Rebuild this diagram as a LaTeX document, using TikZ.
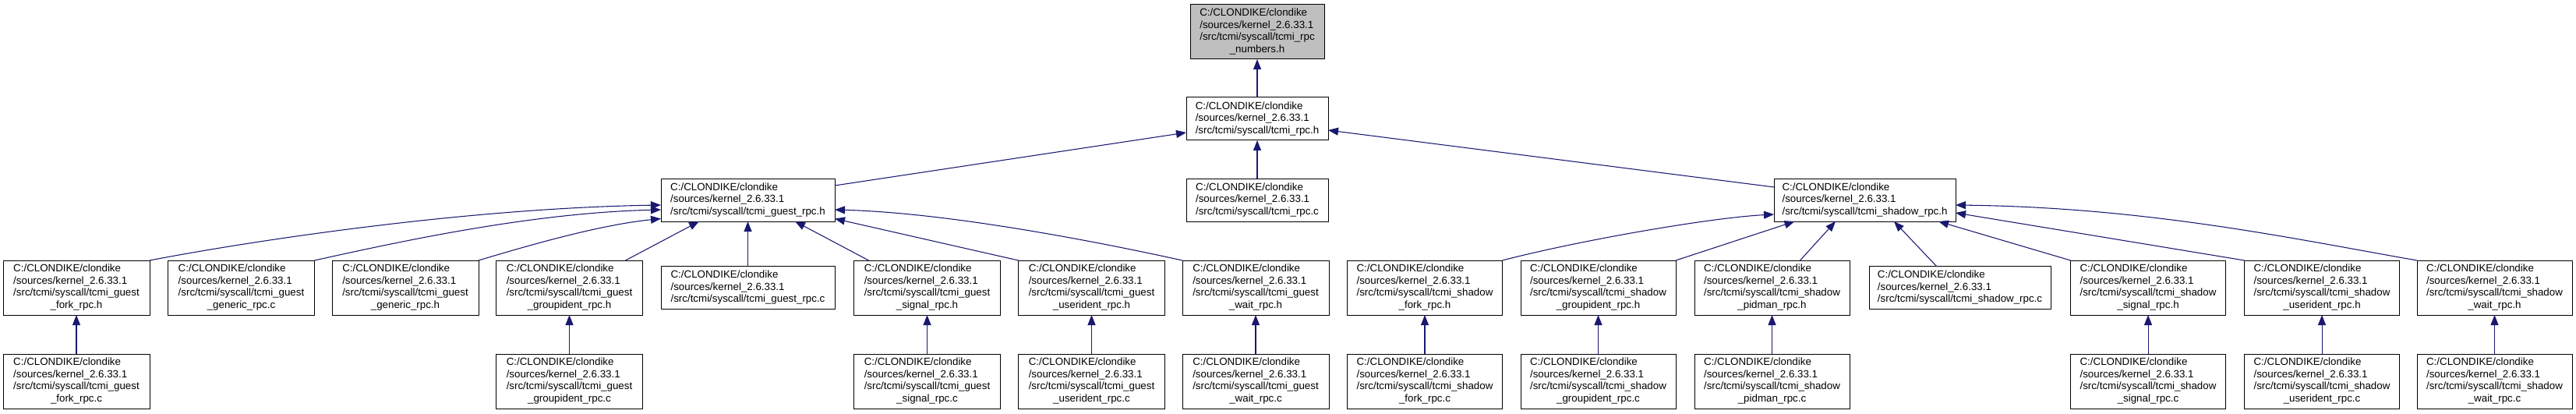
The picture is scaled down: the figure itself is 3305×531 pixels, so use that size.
\documentclass[tikz,border=0pt]{standalone}
\usepackage{fontspec}
\setmainfont{Liberation Sans}
\usetikzlibrary{arrows.meta,calc}
\definecolor{edgeblue}{RGB}{25,25,112}
\definecolor{topgrey}{RGB}{191,191,191}
\newcommand\fourl[4]{\begin{tabular}{@{}l@{}}#1\\#2\\#3\\\multicolumn{1}{@{}c@{}}{#4}\end{tabular}}
\newcommand\threel[3]{\begin{tabular}{@{}l@{}}#1\\#2\\#3\end{tabular}}
\newcommand\pa{C:/CLONDIKE/clondike}
\newcommand\pb{/sources/kernel\_2.6.33.1}
\newcommand\pg{/src/tcmi/syscall/tcmi\_guest}
\newcommand\ps{/src/tcmi/syscall/tcmi\_shadow}
\begin{document}
\begin{tikzpicture}[x=0.75pt,y=-0.75pt,
  box/.style={draw=black, line width=0.75pt, fill=white, inner sep=0pt, outer sep=0pt,
    font=\fontsize{10pt}{11.7pt}\selectfont, minimum height=52.5pt},
  boxthree/.style={box, minimum height=41.25pt},
  bw/.style={minimum width=#1*0.75pt},
  edge/.style={draw=edgeblue, line width=0.8pt, -{Triangle[length=9.75pt,width=7.5pt]}}]
\useasboundingbox (0,0) rectangle (3305,531);
% row 1-3
\node[box,fill=topgrey,bw=172] (numh) at (1613,41) {\fourl{\pa}{\pb}{/src/tcmi/syscall/tcmi\_rpc}{\_numbers.h}};
\node[boxthree,bw=182] (rpch) at (1613,152.5) {\threel{\pa}{\pb}{/src/tcmi/syscall/tcmi\_rpc.h}};
\node[boxthree,bw=223] (grh) at (959.5,256.5) {\threel{\pa}{\pb}{/src/tcmi/syscall/tcmi\_guest\_rpc.h}};
\node[boxthree,bw=182] (rpcc) at (1613,256.5) {\threel{\pa}{\pb}{/src/tcmi/syscall/tcmi\_rpc.c}};
\node[boxthree,bw=233] (srh) at (2392.5,256.5) {\threel{\pa}{\pb}{/src/tcmi/syscall/tcmi\_shadow\_rpc.h}};
% row 4
\node[box,bw=188] (gforkh) at (98,369) {\fourl{\pa}{\pb}{\pg}{\_fork\_rpc.h}};
\node[box,bw=188] (ggenc) at (309.5,369) {\fourl{\pa}{\pb}{\pg}{\_generic\_rpc.c}};
\node[box,bw=188] (ggenh) at (520,369) {\fourl{\pa}{\pb}{\pg}{\_generic\_rpc.h}};
\node[box,bw=188] (ggrph) at (730.5,369) {\fourl{\pa}{\pb}{\pg}{\_groupident\_rpc.h}};
\node[boxthree,bw=223] (grc) at (959.5,369) {\threel{\pa}{\pb}{/src/tcmi/syscall/tcmi\_guest\_rpc.c}};
\node[box,bw=188] (gsigh) at (1189.5,369) {\fourl{\pa}{\pb}{\pg}{\_signal\_rpc.h}};
\node[box,bw=188] (guidh) at (1400.5,369) {\fourl{\pa}{\pb}{\pg}{\_userident\_rpc.h}};
\node[box,bw=188] (gwaith) at (1611,369) {\fourl{\pa}{\pb}{\pg}{\_wait\_rpc.h}};
\node[box,bw=199] (sforkh) at (1828,369) {\fourl{\pa}{\pb}{\ps}{\_fork\_rpc.h}};
\node[box,bw=199] (sgrph) at (2050.5,369) {\fourl{\pa}{\pb}{\ps}{\_groupident\_rpc.h}};
\node[box,bw=199] (spidh) at (2273.5,369) {\fourl{\pa}{\pb}{\ps}{\_pidman\_rpc.h}};
\node[boxthree,bw=233] (src) at (2514.5,369) {\threel{\pa}{\pb}{/src/tcmi/syscall/tcmi\_shadow\_rpc.c}};
\node[box,bw=199] (ssigh) at (2756,369) {\fourl{\pa}{\pb}{\ps}{\_signal\_rpc.h}};
\node[box,bw=199] (suidh) at (2979,369) {\fourl{\pa}{\pb}{\ps}{\_userident\_rpc.h}};
\node[box,bw=199] (swaith) at (3200.5,369) {\fourl{\pa}{\pb}{\ps}{\_wait\_rpc.h}};
% row 5
\node[box,bw=188] (gforkc) at (98,489) {\fourl{\pa}{\pb}{\pg}{\_fork\_rpc.c}};
\node[box,bw=188] (ggrpc) at (730.5,489) {\fourl{\pa}{\pb}{\pg}{\_groupident\_rpc.c}};
\node[box,bw=188] (gsigc) at (1189.5,489) {\fourl{\pa}{\pb}{\pg}{\_signal\_rpc.c}};
\node[box,bw=188] (guidc) at (1400.5,489) {\fourl{\pa}{\pb}{\pg}{\_userident\_rpc.c}};
\node[box,bw=188] (gwaitc) at (1611,489) {\fourl{\pa}{\pb}{\pg}{\_wait\_rpc.c}};
\node[box,bw=199] (sforkc) at (1828,489) {\fourl{\pa}{\pb}{\ps}{\_fork\_rpc.c}};
\node[box,bw=199] (sgrpc) at (2050.5,489) {\fourl{\pa}{\pb}{\ps}{\_groupident\_rpc.c}};
\node[box,bw=199] (spidc) at (2273.5,489) {\fourl{\pa}{\pb}{\ps}{\_pidman\_rpc.c}};
\node[box,bw=199] (ssigc) at (2756,489) {\fourl{\pa}{\pb}{\ps}{\_signal\_rpc.c}};
\node[box,bw=199] (suidc) at (2979,489) {\fourl{\pa}{\pb}{\ps}{\_userident\_rpc.c}};
\node[box,bw=199] (swaitc) at (3200.5,489) {\fourl{\pa}{\pb}{\ps}{\_wait\_rpc.c}};
% top edges
\draw[edge] (rpch.north) -- (numh.south);
\draw[edge] ($(grh.east)+(0,-18.5)$) -- ($(rpch.west)+(0,17.5)$);
\draw[edge] (rpcc.north) -- (rpch.south);
\draw[edge] ($(srh.west)+(0,-16.5)$) -- ($(rpch.east)+(0,14.5)$);
% guest edges
\draw[edge] (gforkh.north east) .. controls +(130,-25) and +(-250,4) .. ($(grh.west)+(0,6.5)$);
\draw[edge] (ggenc.north east) .. controls +(100,-22) and +(-170,4) .. ($(grh.west)+(0,12.5)$);
\draw[edge] (ggenh.north east) .. controls +(60,-18) and +(-80,8) .. ($(grh.west)+(0,24)$);
\draw[edge] ($(ggrph.north east)+(-22,0)$) -- ($(grh.south)+(-62.5,0)$);
\draw[edge] (grc.north) -- (grh.south);
\draw[edge] ($(gsigh.north west)+(19,0)$) -- ($(grh.south)+(60.5,0)$);
\draw[edge] (guidh.north west) -- ($(grh.east)+(0,24)$);
\draw[edge] (gwaith.north west) .. controls +(-100,-22) and +(150,4) .. ($(grh.east)+(0,12.5)$);
% shadow edges
\draw[edge] (sforkh.north east) .. controls +(100,-26) and +(-80,4) .. ($(srh.west)+(0,18.5)$);
\draw[edge] (sgrph.north east) -- ($(srh.south)+(-90,0)$);
\draw[edge] ($(spidh.north)+(36,0)$) -- ($(srh.south)+(-37.5,0)$);
\draw[edge] ($(src.north)+(-30,0)$) -- ($(srh.south)+(37.5,0)$);
\draw[edge] (ssigh.north west) -- ($(srh.south)+(94.5,0)$);
\draw[edge] (suidh.north west) -- ($(srh.east)+(0,16.5)$);
\draw[edge] (swaith.north west) .. controls +(-150,-26) and +(250,3) .. ($(srh.east)+(0,6.5)$);
% row 5 edges
\foreach \c/\p in {gforkc/gforkh, ggrpc/ggrph, gsigc/gsigh, guidc/guidh, gwaitc/gwaith,
  sforkc/sforkh, sgrpc/sgrph, spidc/spidh, ssigc/ssigh, suidc/suidh, swaitc/swaith}
  \draw[edge] (\c.north) -- (\p.south);
\end{tikzpicture}
\end{document}
